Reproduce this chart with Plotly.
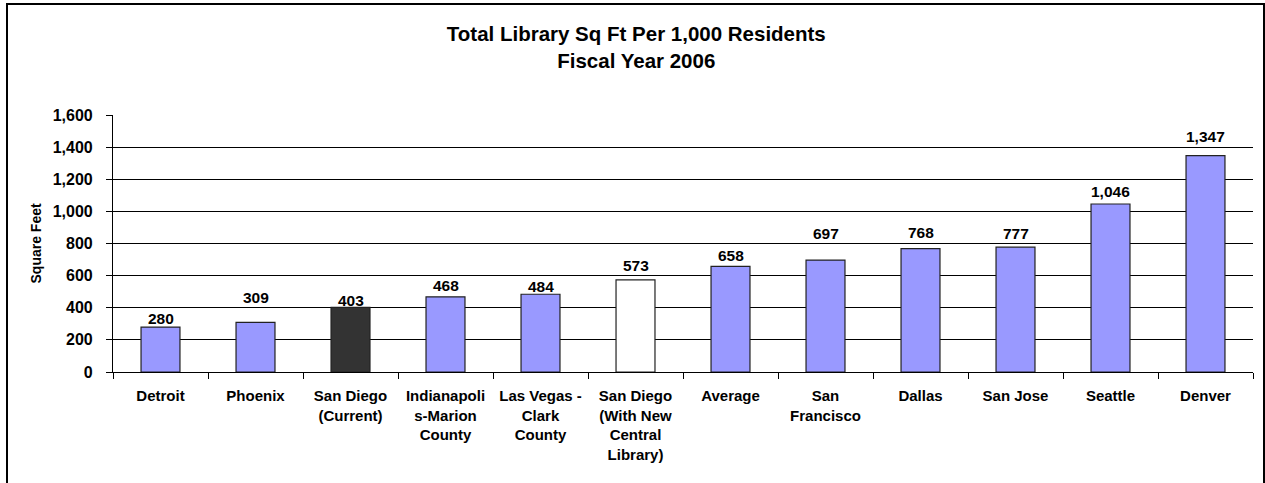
import plotly.graph_objects as go

categories = ["Detroit", "Phoenix", "San Diego<br>(Current)", "Indianapoli<br>s-Marion<br>County",
              "Las Vegas -<br>Clark<br>County", "San Diego<br>(With New<br>Central<br>Library)",
              "Average", "San<br>Francisco", "Dallas", "San Jose", "Seattle", "Denver"]
values = [280, 309, 403, 468, 484, 573, 658, 697, 768, 777, 1046, 1347]
bar_colors = ["#9999FF", "#9999FF", "#333333", "#9999FF", "#9999FF", "#FFFFFF",
              "#9999FF", "#9999FF", "#9999FF", "#9999FF", "#9999FF", "#9999FF"]
label_lift_px = [9, 25, 7, 11, 8, 14, 11, 27, 16, 14, 12, 19]
y_ticks = [0, 200, 400, 600, 800, 1000, 1200, 1400, 1600]

FONT = "Liberation Sans, Arial, sans-serif"
W, H = 1265, 483
ML, MR, MT, MB = 113, 12, 115, 111
PW, PH = W - ML - MR, H - MT - MB

fig = go.Figure()
fig.add_trace(go.Bar(
    x=categories, y=values, width=0.41,
    marker=dict(color=bar_colors, line=dict(color="#222222", width=1.2)),
    hoverinfo="x+y",
))

for c, v, lift in zip(categories, values, label_lift_px):
    fig.add_annotation(x=c, y=v, text=f"<b>{v:,}</b>", showarrow=False,
                       yanchor="middle", yshift=lift,
                       font=dict(family=FONT, size=15.5, color="black"))

fig.add_annotation(xref="paper", yref="paper", x=(35 - ML) / PW, y=0.5,
                   xanchor="center", yanchor="middle",
                   text="<b>Square Feet</b>", textangle=-90, showarrow=False,
                   font=dict(family=FONT, size=14, color="black"))

fig.add_shape(type="rect", xref="paper", yref="paper",
              x0=(7 - ML) / PW, x1=(1264 - ML) / PW,
              y0=(MT + PH - 490) / PH, y1=(MT + PH - 4) / PH,
              line=dict(color="black", width=2), fillcolor="rgba(0,0,0,0)", layer="below")

fig.update_layout(
    width=W, height=H,
    margin=dict(l=ML, r=MR, t=MT, b=MB),
    paper_bgcolor="white", plot_bgcolor="white",
    showlegend=False,
    title=dict(text="<b>Total Library Sq Ft Per 1,000 Residents<br>Fiscal Year 2006</b>",
               x=0.503, xanchor="center", y=1 - 41 / H, yanchor="top", yref="container",
               font=dict(family=FONT, size=20.5, color="black")),
    font=dict(family=FONT, color="black"),
    bargap=0.59,
)
fig.update_xaxes(
    type="category", showline=True, linecolor="black", linewidth=1.2,
    ticks="outside", tickson="boundaries", ticklen=6, tickcolor="black", tickwidth=1.2,
    tickfont=dict(family=FONT, size=15, color="black", weight="bold"), ticklabelstandoff=10,
    showgrid=False,
)
fig.update_yaxes(
    range=[0, 1600], tickvals=y_ticks, tickformat=",", showline=True, linecolor="black",
    linewidth=1.2, ticks="outside", ticklen=6, tickcolor="black", tickwidth=1.2,
    showgrid=True, gridcolor="black", gridwidth=1,
    tickfont=dict(family=FONT, size=16, color="black", weight="bold"), ticklabelstandoff=10,
    zeroline=False,
)

fig.write_html("out.html", config={"displayModeBar": False},
               post_script="document.body.style.margin='0';")
